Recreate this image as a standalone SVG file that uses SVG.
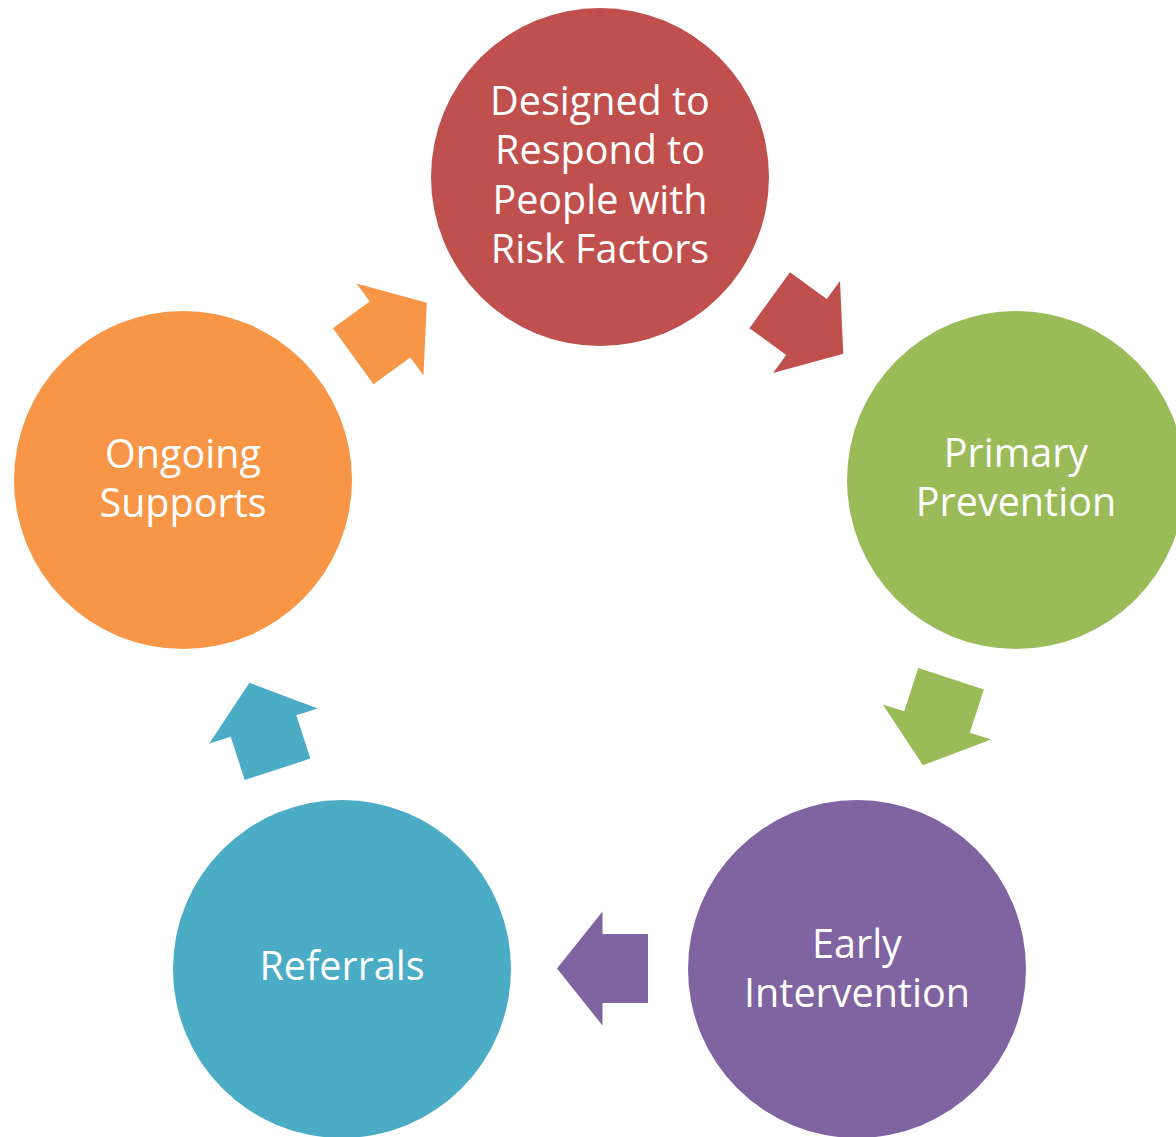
<svg xmlns="http://www.w3.org/2000/svg" xmlns:xlink="http://www.w3.org/1999/xlink" width="1176" height="1137" viewBox="0 0 1176 1137">
  <style>
    .lbl { font-family: "Open Sans", "Liberation Sans", sans-serif; font-size: 39.5px; fill: #FFFFFF; text-anchor: middle; }
  </style>
  <defs>
    <path id="arrow" d="M45.5,0 L0,-57 L0,-34.5 L-45.5,-34.5 L-45.5,34.5 L0,34.5 L0,57 Z"/>
  </defs>
  <rect x="0" y="0" width="1176" height="1137" fill="#FFFFFF"/>

  <g id="connectors">
    <use xlink:href="#arrow" href="#arrow" fill="#C0504D" transform="translate(806.5,327) rotate(36)"/>
    <use xlink:href="#arrow" href="#arrow" fill="#9BBB59" transform="translate(937,722) rotate(108)"/>
    <use xlink:href="#arrow" href="#arrow" fill="#8064A2" transform="translate(602.5,968.5) rotate(180)"/>
    <use xlink:href="#arrow" href="#arrow" fill="#4BACC6" transform="translate(263.5,726) rotate(252)"/>
    <use xlink:href="#arrow" href="#arrow" fill="#F79646" transform="translate(390,329.5) rotate(324)"/>
  </g>

  <g id="node-risk">
    <circle cx="600" cy="177" r="169" fill="#C0504D"/>
    <text class="lbl" x="600" y="114.5">Designed to</text>
    <text class="lbl" x="600" y="164">Respond to</text>
    <text class="lbl" x="600" y="213.5">People with</text>
    <text class="lbl" x="600" y="263">Risk Factors</text>
  </g>

  <g id="node-primary">
    <circle cx="1016" cy="480" r="169" fill="#9BBB59"/>
    <text class="lbl" x="1016" y="467">Primary</text>
    <text class="lbl" x="1016" y="516">Prevention</text>
  </g>

  <g id="node-early">
    <circle cx="857" cy="969" r="169" fill="#8064A2"/>
    <text class="lbl" x="857" y="957.5">Early</text>
    <text class="lbl" x="857" y="1007">Intervention</text>
  </g>

  <g id="node-referrals">
    <circle cx="342" cy="969" r="169" fill="#4BACC6"/>
    <text class="lbl" x="342" y="980">Referrals</text>
  </g>

  <g id="node-ongoing">
    <circle cx="183" cy="480" r="169" fill="#F79646"/>
    <text class="lbl" x="183" y="468">Ongoing</text>
    <text class="lbl" x="183" y="517">Supports</text>
  </g>
</svg>
